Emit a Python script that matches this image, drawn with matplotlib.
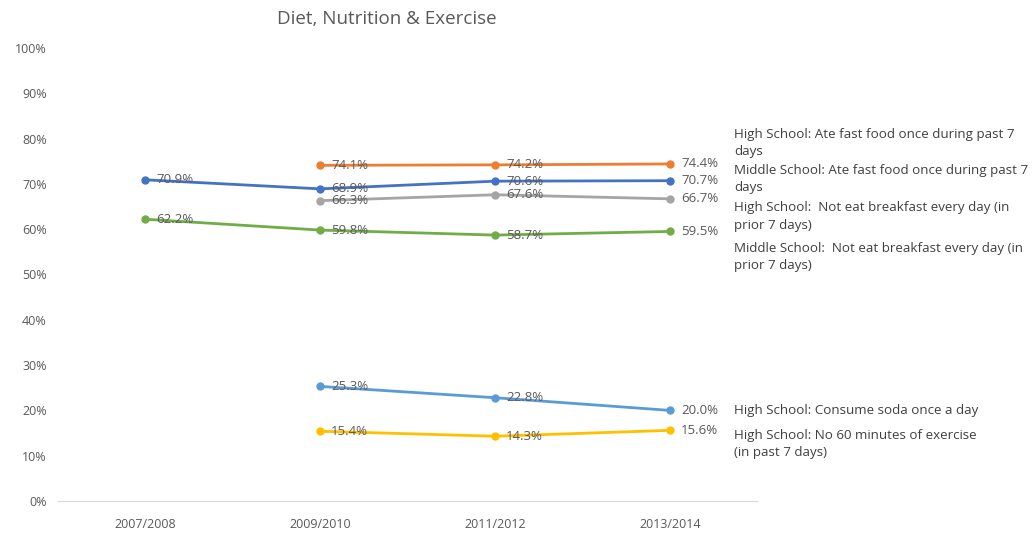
import numpy as np
import matplotlib.pyplot as plt
from matplotlib import rcParams

rcParams["font.family"] = ["Open Sans", "DejaVu Sans"]

# ------------------------------------------------------------ data
years = ["2007/2008", "2009/2010", "2011/2012", "2013/2014"]

hs_fast_food  = [np.nan, 74.1, 74.2, 74.4]
ms_fast_food  = [70.9, 68.9, 70.6, 70.7]
hs_breakfast  = [np.nan, 66.3, 67.6, 66.7]
ms_breakfast  = [62.2, 59.8, 58.7, 59.5]
hs_soda       = [np.nan, 25.3, 22.8, 20.0]
hs_exercise   = [np.nan, 15.4, 14.3, 15.6]

series = [
    (hs_fast_food, "#ED7D31", "High School: Ate fast food once during past 7\ndays", 0.732),
    (ms_fast_food, "#4472C4", "Middle School: Ate fast food once during past 7\ndays", 0.664),
    (hs_breakfast, "#A5A5A5", "High School:  Not eat breakfast every day (in\nprior 7 days)", 0.594),
    (ms_breakfast, "#70AD47", "Middle School:  Not eat breakfast every day (in\nprior 7 days)", 0.518),
    (hs_soda,      "#5B9BD5", "High School: Consume soda once a day", 0.229),
    (hs_exercise,  "#FFC000", "High School: No 60 minutes of exercise\n(in past 7 days)", 0.167),
]

TXT = "#595959"

fig = plt.figure(figsize=(10.32, 5.33), dpi=100)
ax = fig.add_axes([0.056, 0.060, 0.678, 0.850])

x = np.arange(len(years))
for vals, col, name, ty in series:
    v = np.array(vals, dtype=float)
    ax.plot(x, v, color=col, lw=2.0, marker="o", ms=5, zorder=3)
    for xi, yi in zip(x, v):
        if np.isnan(yi):
            continue
        ax.annotate(f"{yi:.1f}%", (xi, yi), xytext=(8, 0),
                    textcoords="offset points", ha="left", va="center",
                    fontsize=9.5, color=TXT, zorder=4)
    fig.text(0.711, ty, name, fontsize=9.6, color="#404040",
             ha="left", va="center", linespacing=1.45)

ax.set_xlim(-0.5, 3.5)
ax.set_ylim(0, 100)
ax.set_xticks(x)
ax.set_xticklabels(years)
ax.set_yticks(np.arange(0, 101, 10))
ax.set_yticklabels([f"{t}%" for t in range(0, 101, 10)])
ax.tick_params(axis="both", length=0, labelsize=9, labelcolor=TXT)
ax.tick_params(axis="x", pad=12)
ax.tick_params(axis="y", pad=8)
for side in ["top", "right", "left"]:
    ax.spines[side].set_visible(False)
ax.spines["bottom"].set_color("#D9D9D9")

fig.text(0.375, 0.965, "Diet, Nutrition & Exercise", fontsize=13.5,
         color=TXT, ha="center", va="center")

fig.savefig("out.png", dpi=100)
